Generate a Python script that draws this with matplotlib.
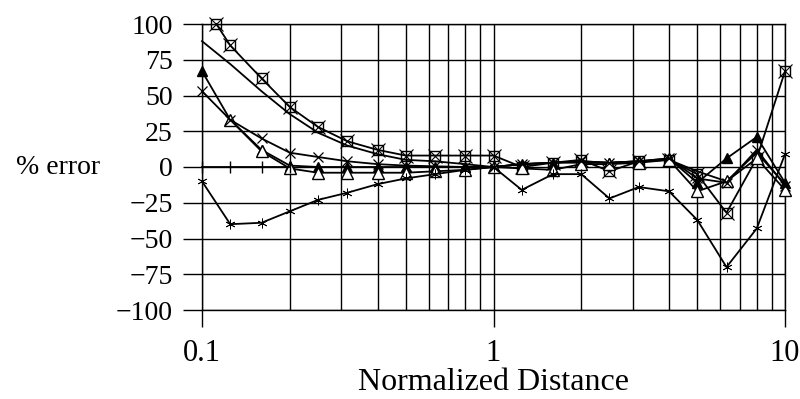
import matplotlib
matplotlib.use("Agg")
import matplotlib.pyplot as plt
from matplotlib.ticker import FixedLocator, NullFormatter, LogLocator

plt.rcParams['font.family'] = ['Liberation Serif', 'DejaVu Serif']
plt.rcParams['axes.unicode_minus'] = True

# x positions (normalized distance)
x_all = [0.1, 0.125, 0.16, 0.2, 0.25, 0.315, 0.4, 0.5, 0.63, 0.8, 1.0,
         1.25, 1.6, 2.0, 2.5, 3.15, 4.0, 5.0, 6.3, 8.0, 10.0]

# series: open square
x_square = [0.112] + x_all[1:]
y_square = [100, 85, 62, 42, 28, 18, 12, 8, 8, 8, 8,
            0, 3, 5, -3, 4, 5, -5, -32, 6, 67]

# series: plain line
y_plain = [88, 72, 53, 37, 24, 15, 9, 5, 4, 2, 0,
           2, 3, 4, 3, 4, 5, -3, -10, 10, -12]

# series: filled triangle
y_ftri = [67, 33, 12, 1, 0, 0, 0, 0, 0, 0, 0,
          2, 3, 3, 3, 4, 6, -11, 6, 21, -11]

# series: open triangle
x_otri = x_all[1:]
y_otri = [33, 11, -1, -4, -4, -4, -4, -3, -2, 0,
          -1, -2, 2, 2, 3, 5, -17, -10, 6, -16]

# series: cross
y_cross = [53, 33, 20, 10, 7, 4, 2, 1, 0.5, 0, 0,
           2, 3, 4, 3, 4, 6, -8, -11, 12, -13]

# series: asterisk
y_star = [-10, -40, -39, -31, -23, -18, -12, -8, -5, -2, 0,
          -16, -5, -5, -22, -14, -17, -37, -70, -43, 9]

# series: zero reference ticks
x_ref = [0.1, 0.125, 0.16, 0.2]
y_ref = [0, 0, 0, 0]

y_ticks = [100, 75, 50, 25, 0, -25, -50, -75, -100]
x_ticks = [0.1, 1, 10]
x_ticklabels = ['0.1', '1', '10']

fig = plt.figure(figsize=(8, 3.99), dpi=100)
ax = fig.add_axes([202/800, 1-310/399, (785-202)/800, (310-24)/399])

ax.set_xscale('log')
ax.set_xlim(0.1, 10)
ax.set_ylim(-100, 100)

lw = 1.3
ax.plot(x_square, y_square, color='black', lw=lw, marker='s', ms=7,
        mfc='none', mec='black', mew=1.0, clip_on=False, zorder=3)
ax.plot(x_square, y_square, color='none', lw=0, marker='x', ms=10,
        mec='black', mew=0.8, clip_on=False, zorder=3)
ax.plot(x_all, y_plain, color='black', lw=lw, zorder=3, clip_on=False)
ax.plot(x_all, y_ftri, color='black', lw=lw, marker='^', ms=7,
        mfc='black', mec='black', zorder=3, clip_on=False)
ax.plot(x_otri, y_otri, color='black', lw=lw, marker='^', ms=8,
        mfc='white', mec='black', mew=1.0, zorder=3, clip_on=False)
ax.plot(x_all, y_cross, color='black', lw=lw, marker='x', ms=7,
        mec='black', mew=0.9, zorder=3, clip_on=False)
ax.plot(x_all, y_star, color='black', lw=lw, marker=(6, 2, 0), ms=7,
        mec='black', mew=0.6, zorder=3, clip_on=False)
ax.plot(x_ref, y_ref, color='black', lw=lw, marker='|', ms=9,
        mec='black', mew=1.0, zorder=3, clip_on=False)

ax.yaxis.set_major_locator(FixedLocator(y_ticks))
ax.set_yticklabels([f"{v}".replace('-', '\u2212') for v in y_ticks])
ax.xaxis.set_major_locator(FixedLocator(x_ticks))
ax.set_xticklabels(x_ticklabels)
ax.xaxis.set_minor_locator(LogLocator(base=10, subs=range(2, 10)))
ax.xaxis.set_minor_formatter(NullFormatter())

ax.grid(True, which='both', axis='x', color='black', lw=1.0)
ax.grid(True, which='major', axis='y', color='black', lw=1.0)
ax.set_axisbelow(True)

ax.tick_params(axis='y', which='major', length=14, width=1.0, pad=7,
               labelsize=20, direction='out')
ax.tick_params(axis='x', which='major', length=12, width=1.0, pad=9,
               labelsize=22, direction='out')
ax.tick_params(axis='x', which='minor', length=0)

for s in ax.spines.values():
    s.set_linewidth(1.0)
    s.set_color('black')

ax.set_xlabel('Normalized Distance', fontsize=23, labelpad=0)
ax.set_ylabel('% error', fontsize=20, rotation=0, ha='center', va='center')
ax.yaxis.set_label_coords((58-202)/(785-202), 0.5)

fig.savefig('out.png', dpi=100)
